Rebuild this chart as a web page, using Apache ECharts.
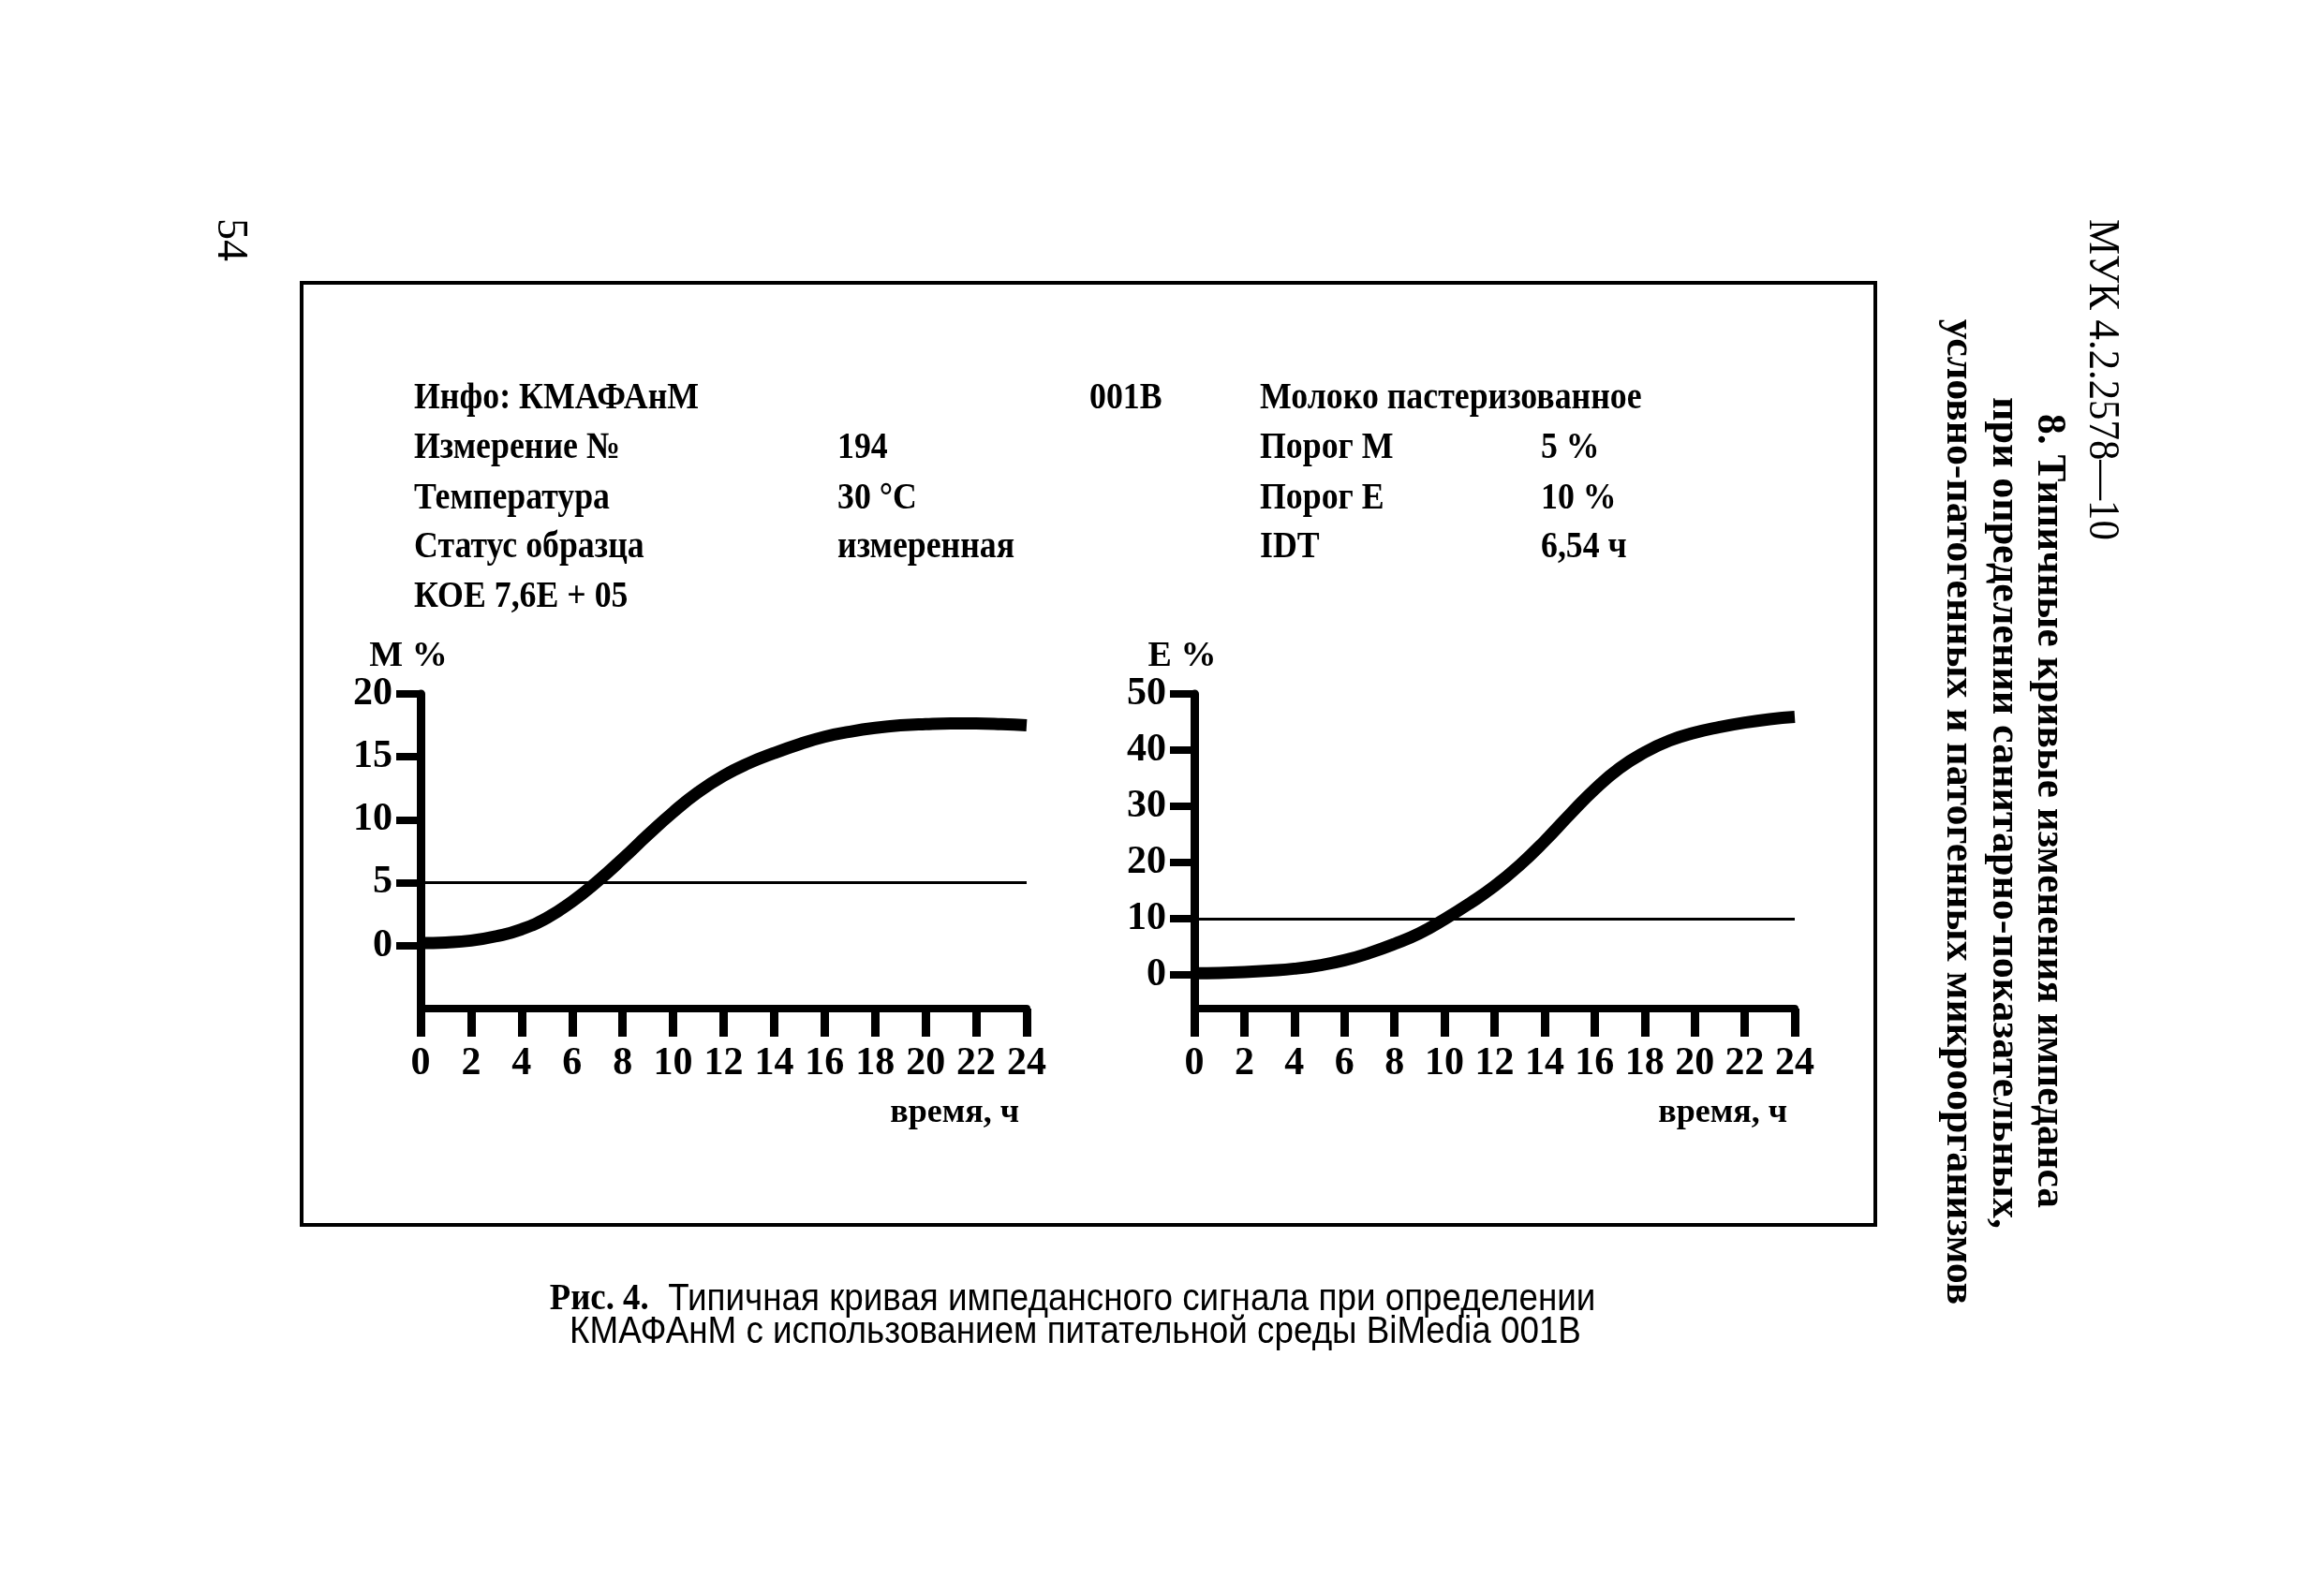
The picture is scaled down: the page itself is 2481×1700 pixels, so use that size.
<!DOCTYPE html>
<html><head><meta charset="utf-8">
<script src="https://cdn.jsdelivr.net/npm/echarts@6/dist/echarts.min.js"></script>
<style>html,body{margin:0;padding:0;background:#fff}#c{width:2481px;height:1700px}</style>
</head><body><div id="c"></div>
<script>
// ---- data ----
const hours = [0,1,2,3,4,5,6,7,8,9,10,11,12,13,14,15,16,17,18,19,20,21,22,23,24];
const mValues = [0.2,0.25,0.4,0.75,1.3,2.2,3.5,5.1,6.9,8.8,10.6,12.2,13.5,14.5,15.3,16.0,16.6,17.0,17.3,17.5,17.6,17.65,17.65,17.6,17.5];
const eValues = [0.3,0.35,0.5,0.75,1.1,1.7,2.6,3.9,5.5,7.4,9.9,12.7,15.8,19.5,23.8,28.5,33.0,36.8,39.6,41.7,43.1,44.1,44.9,45.5,45.9];
const thresholdM = 5;
const thresholdE = 10;
const xTicks = [0,2,4,6,8,10,12,14,16,18,20,22,24];
const mTicks = [0,5,10,15,20];
const eTicks = [0,10,20,30,40,50];
const mAxisName = 'М %';
const eAxisName = 'Е %';
const xAxisName = 'время, ч';

const infoRows = [
  ['Инфо: КМАФАнМ', '', '001В', 'Молоко пастеризованное', ''],
  ['Измерение №', '194', '', 'Порог М', '5 %'],
  ['Температура', '30 °С', '', 'Порог Е', '10 %'],
  ['Статус образца', 'измеренная', '', 'IDT', '6,54 ч'],
  ['КОЕ 7,6Е + 05', '', '', '', '']
];
const captionBold = 'Рис. 4.';
const captionLine1 = 'Типичная кривая импедансного сигнала при определении';
const captionLine2 = 'КМАФАнМ с использованием питательной среды BiMedia 001В';
const sideDoc = 'МУК 4.2.2578—10';
const sideTitle = ['8. Типичные кривые изменения импеданса', 'при определении санитарно-показательных,', 'условно-патогенных и патогенных микроорганизмов'];
const pageNo = '54';

// ---- chart ----
const SERIF = '"Liberation Serif", "Times New Roman", serif';
const SANS = '"Liberation Sans", Arial, sans-serif';
const chart = echarts.init(document.getElementById('c'), null, {renderer: 'canvas'});

function xAxisCfg(idx) {
  return {
    gridIndex: idx, type: 'value', min: 0, max: 24, interval: 2,
    name: xAxisName, nameLocation: 'end', nameGap: -8,
    nameTextStyle: {fontFamily: SERIF, fontWeight: 'bold', fontSize: 36, color: '#000', align: 'right', verticalAlign: 'top', padding: [94, 0, 0, 0]},
    axisLine: {show: true, onZero: false, lineStyle: {color: '#000', width: 8}},
    axisTick: {show: true, inside: false, length: 30, customValues: xTicks, lineStyle: {color: '#000', width: 9}},
    axisLabel: {show: true, margin: 38, customValues: xTicks, fontFamily: SERIF, fontWeight: 'bold', fontSize: 42, color: '#000'},
    splitLine: {show: false}
  };
}
function yAxisCfg(idx, min, max, ticks, name) {
  return {
    gridIndex: idx, type: 'value', min: min, max: max,
    name: name, nameLocation: 'end', nameGap: 12,
    nameTextStyle: {fontFamily: SERIF, fontWeight: 'bold', fontSize: 38, color: '#000', align: 'center', padding: [0, 26, 0, 0]},
    axisLine: {show: true, onZero: false, lineStyle: {color: '#000', width: 9}},
    axisTick: {show: true, inside: false, length: 26, customValues: ticks, lineStyle: {color: '#000', width: 8}},
    axisLabel: {show: true, margin: 30, customValues: ticks, fontFamily: SERIF, fontWeight: 'bold', fontSize: 42, color: '#000'},
    splitLine: {show: false}
  };
}
function curve(idx, values, thr) {
  return {
    type: 'line', xAxisIndex: idx, yAxisIndex: idx,
    data: hours.map((h, i) => [h, values[i]]),
    smooth: 0.5, showSymbol: false, symbol: 'none', silent: true,
    lineStyle: {color: '#000', width: 13, cap: 'butt', join: 'round'},
    markLine: {silent: true, symbol: 'none', label: {show: false},
      lineStyle: {color: '#000', width: 3, type: 'solid'},
      data: [{yAxis: thr}]}
  };
}

const graphic = [];
graphic.push({type: 'rect', shape: {x: 322, y: 302, width: 1680, height: 1006}, style: {fill: 'none', stroke: '#000', lineWidth: 4}, silent: true});
const colX = [442, 894, 1163, 1345, 1645];
const rowY = [426, 479, 533, 585, 638];
infoRows.forEach((row, r) => row.forEach((t, c) => {
  if (!t) return;
  graphic.push({type: 'text', x: colX[c], y: rowY[r], scaleX: 0.895, silent: true,
    style: {text: t, font: 'bold 40px ' + SERIF, fill: '#000', align: 'left', verticalAlign: 'middle', textAlign: 'left', textVerticalAlign: 'middle'}});
}));
// caption
graphic.push({type: 'text', x: 1145, y: 1388, scaleX: 0.92, silent: true,
  style: {text: '{b|' + captionBold + '}  ' + captionLine1, font: '40px ' + SANS, fill: '#000', align: 'center', verticalAlign: 'middle', textAlign: 'center', textVerticalAlign: 'middle',
    rich: {b: {fontFamily: SERIF, fontWeight: 'bold', fontSize: 40, fill: '#000'}}}});
graphic.push({type: 'text', x: 1148, y: 1423, scaleX: 0.92, silent: true,
  style: {text: captionLine2, font: '40px ' + SANS, fill: '#000', align: 'center', verticalAlign: 'middle', textAlign: 'center', textVerticalAlign: 'middle'}});
// side vertical text (reads top to bottom)
graphic.push({type: 'text', x: 2243, y: 234, rotation: -Math.PI / 2, scaleX: 0.93, silent: true,
  style: {text: sideDoc, font: '46px ' + SERIF, fill: '#000', align: 'left', verticalAlign: 'middle', textAlign: 'left', textVerticalAlign: 'middle'}});
const sideX = [2187, 2139, 2090];
const sideY = [866, 868, 867];
const sideScale = [0.985, 1.0, 0.995];
sideTitle.forEach((t, i) => graphic.push({type: 'text', x: sideX[i], y: sideY[i], rotation: -Math.PI / 2, scaleX: sideScale[i], silent: true,
  style: {text: t, font: 'bold 44px ' + SERIF, fill: '#000', align: 'center', verticalAlign: 'middle', textAlign: 'center', textVerticalAlign: 'middle'}}));
graphic.push({type: 'text', x: 245, y: 256, rotation: -Math.PI / 2, silent: true,
  style: {text: pageNo, font: '46px ' + SERIF, fill: '#000', align: 'center', verticalAlign: 'middle', textAlign: 'center', textVerticalAlign: 'middle'}});

chart.setOption({
  backgroundColor: '#fff',
  animation: false,
  grid: [
    {left: 449, right: 2481 - 1096, top: 741, bottom: 1700 - 1077, containLabel: false},
    {left: 1275, right: 2481 - 1916, top: 741, bottom: 1700 - 1077, containLabel: false}
  ],
  xAxis: [xAxisCfg(0), xAxisCfg(1)],
  yAxis: [yAxisCfg(0, -5, 20, mTicks, mAxisName), yAxisCfg(1, -6, 50, eTicks, eAxisName)],
  series: [curve(0, mValues, thresholdM), curve(1, eValues, thresholdE)],
  graphic: graphic
});
</script>
</body></html>
